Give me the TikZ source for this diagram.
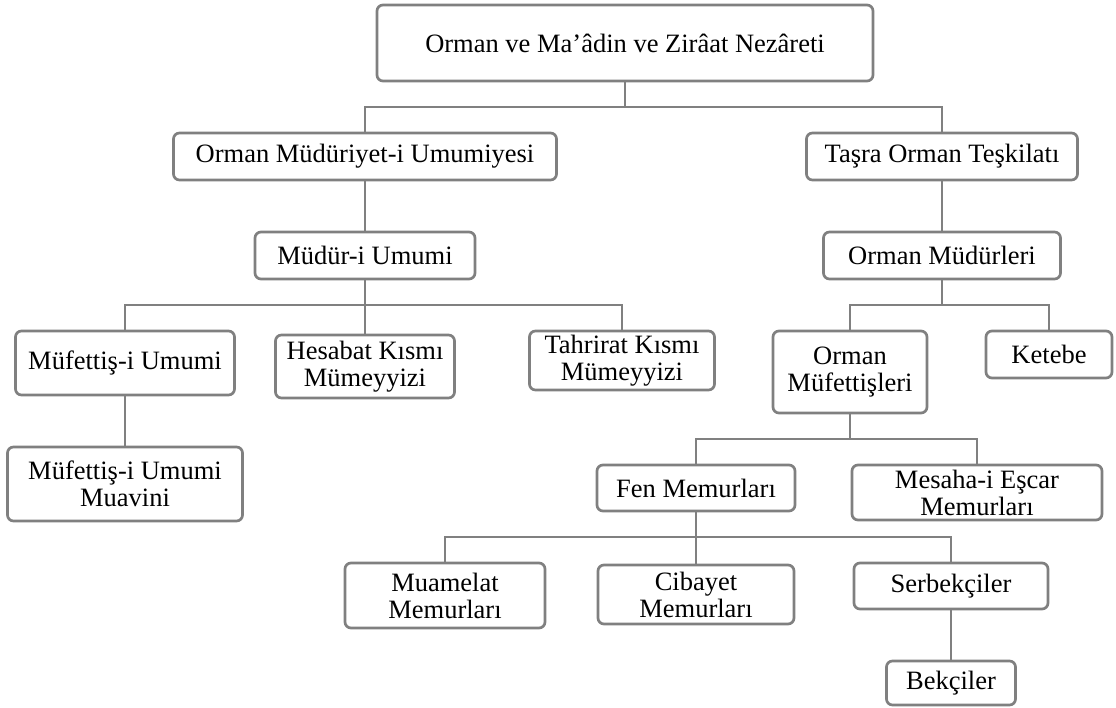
\documentclass[tikz,border=0pt]{standalone}
\usepackage{fontspec}
\setmainfont{Liberation Serif}
\usepackage{xcolor}
\usepackage{tikz}
\usetikzlibrary{positioning}

\definecolor{linegray}{RGB}{128,128,128}

\begin{document}
\begin{tikzpicture}[x=1pt, y=-1pt, node distance=52pt,
		box/.style={draw=linegray, line width=2.7pt, rounded corners=6pt, fill=white, align=center, inner sep=0pt, outer sep=0pt, minimum height=47pt, font=\fontsize{26.5}{27}\selectfont},
		orgline/.style={draw=linegray, line width=2.7pt, to path={(\tikztostart) -- ++(0,-26pt) -| (\tikztotarget)}}]
		\useasboundingbox (0,0) rectangle (1116,707);

		\node[box, minimum width=496pt, minimum height=76pt] (nezaret) at (625,43) {Orman ve Ma’âdin ve Zirâat Nezâreti};

		\node[box, minimum width=383pt] (mudiriyet) [below=of nezaret, xshift=-260pt] {Orman Müdüriyet-i Umumiyesi};
		\node[box, minimum width=271pt] (tasra) [below=of nezaret, xshift=317pt] {Taşra Orman Teşkilatı};

		\node[box, minimum width=220pt] (mudur) [below=of mudiriyet] {Müdür-i Umumi};
		\node[box, minimum width=237pt] (mudurler) [below=of tasra] {Orman Müdürleri};

		\node[box, minimum width=219pt, minimum height=64pt] (mufettis) [below=of mudur, xshift=-240pt] {Müfettiş-i Umumi};
		\node[box, minimum width=179pt, minimum height=63pt] (hesabat) [below=56pt of mudur] {Hesabat Kısmı\\Mümeyyizi};
		\node[box, minimum width=185pt, minimum height=59pt] (tahrirat) [below=of mudur, xshift=257pt] {Tahrirat Kısmı\\Mümeyyizi};
		\node[box, minimum width=235pt, minimum height=74pt] (muavin) [below=of mufettis] {Müfettiş-i Umumi\\Muavini};

		\node[box, minimum width=154pt, minimum height=82pt] (mufettisler) [below=of mudurler, xshift=-92pt] {Orman\\Müfettişleri};
		\node[box, minimum width=126pt] (ketebe) [below=of mudurler, xshift=107pt] {Ketebe};

		\node[box, minimum width=198pt, minimum height=46pt] (fen) [below=of mufettisler, xshift=-154pt] {Fen Memurları};
		\node[box, minimum width=250pt, minimum height=55pt] (mesaha) [below=of mufettisler, xshift=127pt] {Mesaha-i Eşcar\\Memurları};

		\node[box, minimum width=200pt, minimum height=65pt] (muamelat) [below=of fen, xshift=-251pt] {Muamelat\\Memurları};
		\node[box, minimum width=196pt, minimum height=59pt] (cibayet) [below=54pt of fen] {Cibayet\\Memurları};
		\node[box, minimum width=194pt, minimum height=46pt] (serbekci) [below=of fen, xshift=255pt] {Serbekçiler};
		\node[box, minimum width=129pt, minimum height=44pt] (bekci) [below=of serbekci] {Bekçiler};

		\path (nezaret.south) edge[orgline] (mudiriyet.north);
		\path (nezaret.south) edge[orgline] (tasra.north);

		\path (mudiriyet.south) edge[orgline] (mudur.north);
		\path (tasra.south) edge[orgline] (mudurler.north);

		\path (mudur.south) edge[orgline] (mufettis.north);
		\path (mudur.south) edge[orgline] (hesabat.north);
		\path (mudur.south) edge[orgline] (tahrirat.north);
		\path (mufettis.south) edge[orgline] (muavin.north);

		\path (mudurler.south) edge[orgline] (mufettisler.north);
		\path (mudurler.south) edge[orgline] (ketebe.north);

		\path (mufettisler.south) edge[orgline] (fen.north);
		\path (mufettisler.south) edge[orgline] (mesaha.north);

		\path (fen.south) edge[orgline] (muamelat.north);
		\path (fen.south) edge[orgline] (cibayet.north);
		\path (fen.south) edge[orgline] (serbekci.north);
		\path (serbekci.south) edge[orgline] (bekci.north);
	\end{tikzpicture}
\end{document}
